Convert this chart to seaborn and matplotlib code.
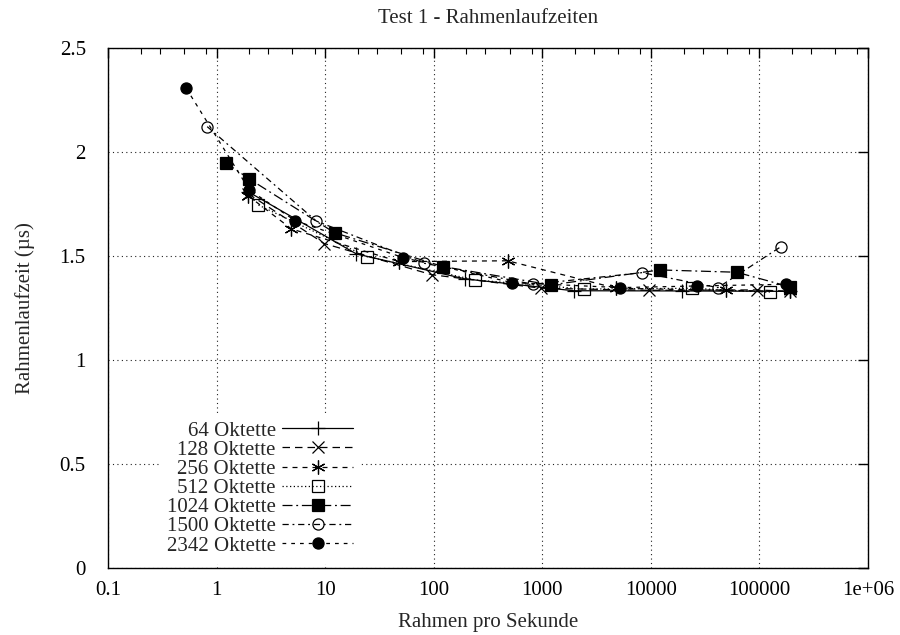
import matplotlib
matplotlib.use("Agg")
import matplotlib.pyplot as plt
import seaborn as sns
import pandas as pd
import numpy as np

sns.set_theme(style="white")
plt.rcParams["font.family"] = ["Liberation Serif", "DejaVu Serif"]

# Frame rates (frames per second) and measured latencies (µs) per frame size
labels = ["64 Oktette", "128 Oktette", "256 Oktette", "512 Oktette",
          "1024 Oktette", "1500 Oktette", "2342 Oktette"]

x64 = [1.94, 19.4, 194, 1940, 19500, 190000]
y64 = [1.81, 1.51, 1.39, 1.333, 1.332, 1.33]

x128 = [1.95, 9.8, 96, 980, 9600, 95600, 190000]
y128 = [1.80, 1.56, 1.41, 1.345, 1.335, 1.337, 1.33]

x256 = [1.95, 4.9, 48, 480, 4800, 49500, 190000]
y256 = [1.79, 1.63, 1.473, 1.477, 1.345, 1.335, 1.33]

x512 = [2.43, 24.3, 241, 2430, 24100, 124000]
y512 = [1.745, 1.497, 1.385, 1.341, 1.345, 1.325]

x1024 = [1.21, 2.01, 12.2, 122, 1200, 12080, 61700, 190000]
y1024 = [1.949, 1.87, 1.612, 1.449, 1.361, 1.433, 1.422, 1.352]

x1500 = [0.82, 8.3, 82, 824, 8300, 41500, 158000]
y1500 = [2.122, 1.668, 1.465, 1.364, 1.42, 1.348, 1.545]

x2342 = [0.526, 2.01, 5.3, 52.5, 529, 5245, 26800, 175000]
y2342 = [2.306, 1.817, 1.67, 1.492, 1.372, 1.348, 1.356, 1.364]

xs = [x64, x128, x256, x512, x1024, x1500, x2342]
ys = [y64, y128, y256, y512, y1024, y1500, y2342]

xticks = [0.1, 1, 10, 100, 1000, 10000, 100000, 1e6]
xticklabels = ["0.1", "1", "10", "100", "1000", "10000", "100000", "1e+06"]
yticks = [0, 0.5, 1, 1.5, 2, 2.5]
yticklabels = ["0", "0.5", "1", "1.5", "2", "2.5"]

# gnuplot-like line styles and point types
styles = [
    dict(linestyle="-", marker="+", mfc="none", ms=10),
    dict(linestyle=(0, (6, 4)), marker="x", mfc="none", ms=8),
    dict(linestyle=(0, (4, 4)), marker=(6, 2, 0), mfc="none", ms=10),
    dict(linestyle=(0, (1, 2)), marker="s", mfc="none", ms=8),
    dict(linestyle=(0, (8, 3, 1.5, 3)), marker="s", mfc="black", ms=8),
    dict(linestyle=(0, (5, 3, 1.5, 3)), marker="o", mfc="none", ms=8),
    dict(linestyle=(0, (3, 4)), marker="o", mfc="black", ms=8),
]

frames = []
for lab, x, y in zip(labels, xs, ys):
    frames.append(pd.DataFrame({"rate": x, "latency": y, "size": lab}))
df = pd.concat(frames, ignore_index=True)

fig = plt.figure(figsize=(9, 6.35), dpi=100)
ax = fig.add_axes([0.12, 0.1055, 0.8444, 0.8189])

for lab, st in zip(labels, styles):
    sub = df[df["size"] == lab]
    sns.lineplot(data=sub, x="rate", y="latency", ax=ax, color="black",
                 linewidth=0.9, mec="black", mew=0.9, estimator=None,
                 sort=False, label=lab, **st)

ax.set_xscale("log")
ax.set_xlim(0.1, 1e6)
ax.set_ylim(0, 2.5)
ax.set_xticks(xticks, xticklabels)
ax.set_yticks(yticks, yticklabels)
ax.xaxis.set_minor_locator(matplotlib.ticker.LogLocator(base=10, subs=[2, 3, 5, 8]))
ax.xaxis.set_minor_formatter(matplotlib.ticker.NullFormatter())

ax.grid(True, which="major", color="#222222", linestyle=(0, (1, 3)), linewidth=0.8)
for s in ax.spines.values():
    s.set_color("black")
    s.set_linewidth(1.0)
ax.tick_params(which="both", direction="in", top=True, right=True, colors="black",
               labelsize=15)
ax.tick_params(which="major", length=7, width=1, pad=9)
ax.tick_params(which="minor", length=4, width=0.8)
ax.tick_params(axis="y", pad=16)

ax.set_xlabel("Rahmen pro Sekunde", fontsize=15, labelpad=10)
ax.set_ylabel("Rahmenlaufzeit (µs)", fontsize=15, labelpad=18)
ax.set_title("Test 1 - Rahmenlaufzeiten", fontsize=15, pad=18)

# opaque key in the lower left, text to the left of each sample
h, l = ax.get_legend_handles_labels()
leg = ax.legend(h, l, loc="lower left", bbox_to_anchor=(0.061, 0.0), markerfirst=False,
                frameon=True, fontsize=15, handlelength=3.4, handletextpad=0.3,
                labelspacing=-0.02, borderaxespad=0.2, borderpad=0.4,
                fancybox=False)
leg.get_frame().set_facecolor("white")
leg.get_frame().set_edgecolor("none")
leg.get_frame().set_alpha(1.0)
leg.set_zorder(5)

fig.savefig("out.png", dpi=100)
